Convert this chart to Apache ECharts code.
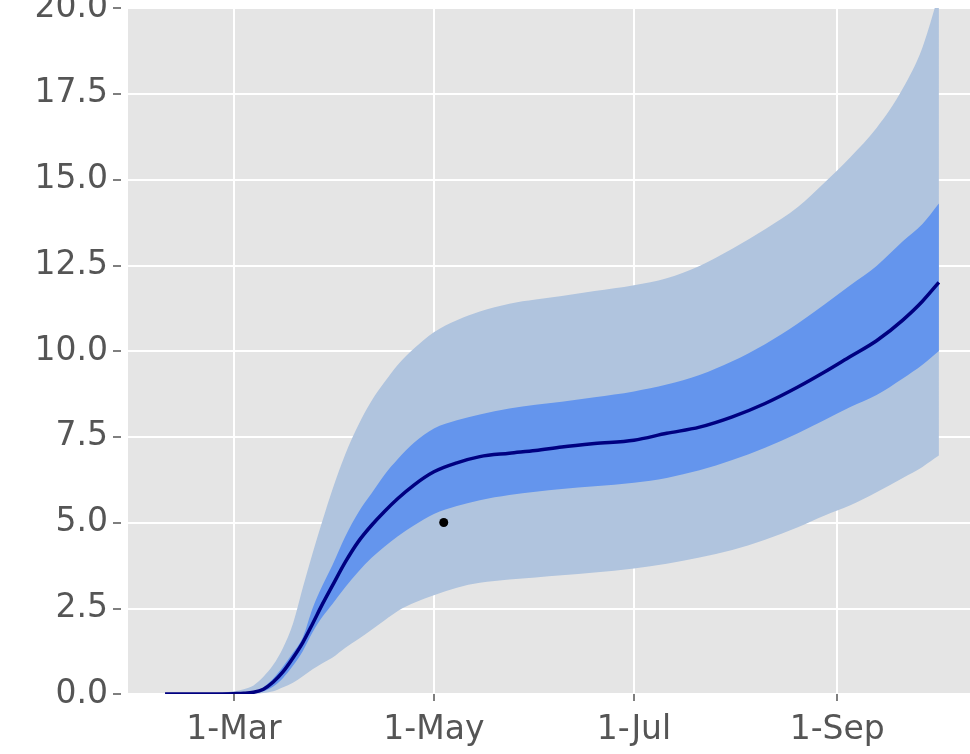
<!DOCTYPE html>
<html>
<head>
<meta charset="utf-8">
<script src="https://cdn.jsdelivr.net/npm/echarts@6/dist/echarts.min.js"></script>
<style>
html,body{margin:0;padding:0;background:#fff;}
#chart{width:970px;height:754px;}
</style>
</head>
<body>
<div id="chart"></div>
<script>
// ---- data ----
const dates = ['2020-02-09','2020-02-16','2020-02-23','2020-03-01','2020-03-04','2020-03-07','2020-03-10','2020-03-13','2020-03-16','2020-03-19','2020-03-22','2020-03-25','2020-03-28','2020-03-31','2020-04-04','2020-04-08','2020-04-12','2020-04-16','2020-04-20','2020-04-25','2020-05-01','2020-05-08','2020-05-15','2020-05-24','2020-06-01','2020-06-09','2020-06-19','2020-07-01','2020-07-11','2020-07-21','2020-07-31','2020-08-10','2020-08-20','2020-08-28','2020-09-05','2020-09-13','2020-09-21','2020-09-27','2020-10-02'];
const median  = [0,0,0,0.01,0.02,0.05,0.14,0.35,0.65,1.05,1.5,2.05,2.62,3.15,3.85,4.45,4.92,5.33,5.7,6.1,6.48,6.74,6.92,7.02,7.1,7.2,7.3,7.4,7.6,7.78,8.08,8.47,8.95,9.38,9.84,10.3,10.9,11.45,12.0];
const upper50 = [0,0,0.005,0.02,0.04,0.08,0.2,0.45,0.8,1.2,1.65,2.5,3.16,3.75,4.6,5.3,5.85,6.4,6.85,7.33,7.74,7.98,8.15,8.32,8.43,8.52,8.65,8.82,9.02,9.3,9.7,10.2,10.8,11.35,11.92,12.48,13.2,13.7,14.3];
const lower50 = [0,0,0,0,0.01,0.02,0.08,0.22,0.47,0.82,1.25,1.8,2.25,2.62,3.12,3.57,3.97,4.3,4.6,4.92,5.25,5.48,5.65,5.8,5.9,5.98,6.06,6.16,6.3,6.52,6.82,7.18,7.6,7.98,8.37,8.72,9.2,9.6,10.0];
const upper95 = [0,0,0.02,0.08,0.14,0.25,0.5,0.85,1.35,2.05,3.1,4.1,5.05,5.95,7.0,7.85,8.55,9.1,9.6,10.08,10.55,10.9,11.15,11.38,11.5,11.6,11.75,11.92,12.12,12.48,12.98,13.55,14.2,14.9,15.65,16.5,17.65,18.85,20.4];
const lower95 = [0,0,0,0,0,0.01,0.03,0.08,0.2,0.33,0.52,0.72,0.9,1.06,1.35,1.6,1.87,2.15,2.42,2.66,2.88,3.1,3.24,3.34,3.4,3.46,3.54,3.66,3.8,3.98,4.2,4.5,4.86,5.2,5.5,5.88,6.3,6.62,6.95];
const observedDates = ['2020-05-04'];
const observedValues = [5.0];
const xTickDates = ['2020-03-01','2020-05-01','2020-07-01','2020-09-01'];
const xTickLabels = ['1-Mar','1-May','1-Jul','1-Sep'];
const yTicks = [0,2.5,5,7.5,10,12.5,15,17.5,20];

// ---- helpers ----
function ts(s){ const p = s.split('-').map(Number); return Date.UTC(p[0], p[1]-1, p[2]); }
const DAY = 86400000;
const xs = dates.map(ts);
const tickTs = xTickDates.map(ts);
const rows = (lo, hi) => xs.map((x,i) => [x, lo[i], hi[i]]);
const pair = (arr) => xs.map((x,i) => [x, arr[i]]);

const LIGHT = '#B0C4DE', MID = '#6495ED', NAVY = '#000080';
const FONT = 'DejaVu Sans';

// monotone cubic (d3 monotoneX style) tangents in pixel space
function tangents(p){
  const n = p.length, m = new Array(n).fill(0), s = [], h = [];
  for (let i = 0; i < n-1; i++){ h[i] = p[i+1][0]-p[i][0]; s[i] = h[i] ? (p[i+1][1]-p[i][1])/h[i] : 0; }
  for (let i = 1; i < n-1; i++){
    const s0 = s[i-1], s1 = s[i];
    const q = (s0*h[i] + s1*h[i-1])/(h[i-1]+h[i]);
    m[i] = (Math.sign(s0)+Math.sign(s1)) * Math.min(Math.abs(s0), Math.abs(s1), 0.5*Math.abs(q)) || 0;
  }
  m[0] = s[0] || 0; m[n-1] = s[n-2] || 0;
  return {m, h};
}
function segs(p){
  const {m, h} = tangents(p), out = [];
  for (let i = 0; i < p.length-1; i++){
    const d = h[i]/3;
    out.push([p[i], [p[i][0]+d, p[i][1]+m[i]*d], [p[i+1][0]-d, p[i+1][1]-m[i+1]*d], p[i+1]]);
  }
  return out;
}
const f = (v) => v.toFixed(2);
function curvePath(pts){
  let d = 'M' + f(pts[0][0]) + ' ' + f(pts[0][1]);
  segs(pts).forEach(sg => { d += 'C' + f(sg[1][0]) + ' ' + f(sg[1][1]) + ' ' + f(sg[2][0]) + ' ' + f(sg[2][1]) + ' ' + f(sg[3][0]) + ' ' + f(sg[3][1]); });
  return d;
}
function bandPath(top, bot){
  let d = curvePath(top);
  const b = segs(bot);
  d += 'L' + f(bot[bot.length-1][0]) + ' ' + f(bot[bot.length-1][1]);
  for (let i = b.length-1; i >= 0; i--){
    const sg = b[i];
    d += 'C' + f(sg[2][0]) + ' ' + f(sg[2][1]) + ' ' + f(sg[1][0]) + ' ' + f(sg[1][1]) + ' ' + f(sg[0][0]) + ' ' + f(sg[0][1]);
  }
  return d + 'Z';
}
function clipOf(params){
  const cs = params.coordSys;
  return {type:'rect', shape:{x:cs.x, y:cs.y, width:cs.width, height:cs.height}};
}

function bandSeries(name, data, color, z){
  return {
    name, type:'custom', data, silent:true, z,
    encode:{x:0, y:[1,2]},
    renderItem: function(params, api){
      if (params.dataIndex !== 0) return null;
      const top = data.map(r => api.coord([r[0], r[2]]));
      const bot = data.map(r => api.coord([r[0], r[1]]));
      return {
        type:'path',
        shape:{pathData: bandPath(top, bot)},
        style:{fill: color, stroke:null},
        clipPath: clipOf(params)
      };
    }
  };
}
function lineSeries(name, data, color, width, z){
  return {
    name, type:'custom', data, silent:true, z,
    encode:{x:0, y:1},
    renderItem: function(params, api){
      if (params.dataIndex !== 0) return null;
      const pts = data.map(r => api.coord([r[0], r[1]]));
      return {
        type:'path',
        shape:{pathData: curvePath(pts)},
        style:{fill:null, stroke:color, lineWidth:width, lineJoin:'round', lineCap:'butt'},
        clipPath: clipOf(params)
      };
    }
  };
}

const chart = echarts.init(document.getElementById('chart'), null, {renderer:'canvas'});
chart.setOption({
  animation:false,
  backgroundColor:'#ffffff',
  grid:{left:128, right:0, top:8, bottom:60, show:true, backgroundColor:'#E5E5E5', borderWidth:0, outerBoundsMode:'none'},
  xAxis:{
    type:'value',
    min: ts('2020-03-01') - 32.3*DAY,
    max: ts('2020-03-01') + 224.5*DAY,
    offset:3,
    axisLine:{show:false},
    axisTick:{show:true, length:7, lineStyle:{color:'#555555', width:1.5}, customValues: tickTs},
    axisLabel:{
      customValues: tickTs, margin:17,
      fontFamily:FONT, fontSize:33, color:'#555555',
      formatter: function(v){ const i = tickTs.indexOf(v); return i>=0 ? xTickLabels[i] : ''; }
    },
    splitLine:{show:true, lineStyle:{color:'#ffffff', width:2}}
  },
  yAxis:{
    type:'value', min:0, max:20, interval:2.5,
    offset:7,
    axisLine:{show:false},
    axisTick:{show:true, length:8, lineStyle:{color:'#555555', width:1.5}},
    axisLabel:{
      margin:13, fontFamily:FONT, fontSize:33, color:'#555555',
      showMinLabel:true, showMaxLabel:true,
      formatter: function(v){ return yTicks.indexOf(v) >= 0 ? v.toFixed(1) : ''; }
    },
    splitLine:{show:true, lineStyle:{color:'#ffffff', width:2}}
  },
  series:[
    bandSeries('band95', rows(lower95, upper95), LIGHT, 2),
    bandSeries('band50', rows(lower50, upper50), MID, 3),
    lineSeries('median', pair(median), NAVY, 3.5, 5),
    {name:'observed', type:'scatter', data:observedDates.map((d,i)=>[ts(d), observedValues[i]]),
     symbol:'circle', symbolSize:9, itemStyle:{color:'#000000', opacity:1}, z:6}
  ]
});
</script>
</body>
</html>
